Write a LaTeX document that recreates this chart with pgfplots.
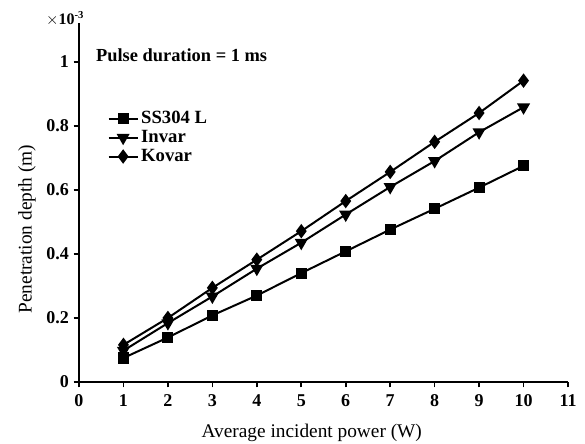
\documentclass[border=0pt]{standalone}
\usepackage{pgfplots}
\pgfplotsset{compat=1.18}
\usepackage{fontspec}
\setmainfont{Liberation Serif}
\begin{document}
\begin{tikzpicture}
\begin{axis}[
  scale only axis,
  at={(0,0)}, anchor=south west,
  width=366.75pt, height=269pt,
  xmin=0, xmax=11, ymin=0, ymax=1.12,
  axis lines=left,
  axis line style={line width=1.5pt, -},
  xtick={0,1,...,11},
  ytick={0,0.2,0.4,0.6,0.8,1},
  yticklabels={0,0.2,0.4,0.6,0.8,1},
  tick align=outside,
  major tick length=4pt,
  tick style={line width=1.2pt, black},
  /pgf/number format/assume math mode=true,
  tick label style={font=\fontsize{13.5}{13.5}\selectfont\bfseries},
  xticklabel style={yshift=-2pt},
  xlabel={Average incident power (W)},
  ylabel={Penetration depth (m)},
  label style={font=\fontsize{14.5}{15}\selectfont},
  xlabel style={at={(rel axis cs:0.476,0)}, anchor=center, yshift=-38pt},
  ylabel style={at={(rel axis cs:0,0.426)}, anchor=center, yshift=39pt},
  legend style={draw=none, fill=none, at={(rel axis cs:0.05,0.77)}, anchor=north west,
    font=\fontsize{14}{14}\selectfont\bfseries, row sep=-0.5pt},
  legend image code/.code={\draw[mark repeat=2,mark phase=2] plot coordinates {(0cm,0cm)(0.38cm,0cm)(0.76cm,0cm)};},
  legend cell align=left,
  clip=false,
]
\addplot[black, line width=1.5pt, mark=square*, mark size=3.4pt, mark options={solid, fill=black}] coordinates {
(1,0.075)(2,0.139)(3,0.208)(4,0.27)(5,0.34)(6,0.408)(7,0.476)(8,0.541)(9,0.607)(10,0.675)};
\addlegendentry{SS304 L}
\addplot[black, line width=1.5pt, mark=triangle*, mark size=4.2pt, mark options={solid, fill=black, rotate=180}] coordinates {
(1,0.098)(2,0.184)(3,0.267)(4,0.354)(5,0.435)(6,0.523)(7,0.609)(8,0.69)(9,0.78)(10,0.858)};
\addlegendentry{Invar}
\addplot[black, line width=1.5pt, mark=diamond*, mark size=4.2pt, mark options={solid, fill=black}] coordinates {
(1,0.116)(2,0.2)(3,0.294)(4,0.382)(5,0.471)(6,0.565)(7,0.656)(8,0.75)(9,0.84)(10,0.941)};
\addlegendentry{Kovar}
\node[anchor=south east, font=\fontsize{12}{12}\selectfont\bfseries, inner sep=1pt, xshift=5pt, yshift=-3pt] at (axis cs:0,1.12) {$\times$10\textsuperscript{-3}};
\node[anchor=west, font=\fontsize{13.8}{14}\selectfont\bfseries] at (axis cs:0.28,1.02) {Pulse duration = 1 ms};
\end{axis}
\pgfresetboundingbox
\path[use as bounding box] (-59.25pt,-45.75pt) rectangle (379.5pt,286.5pt);
\end{tikzpicture}
\end{document}
